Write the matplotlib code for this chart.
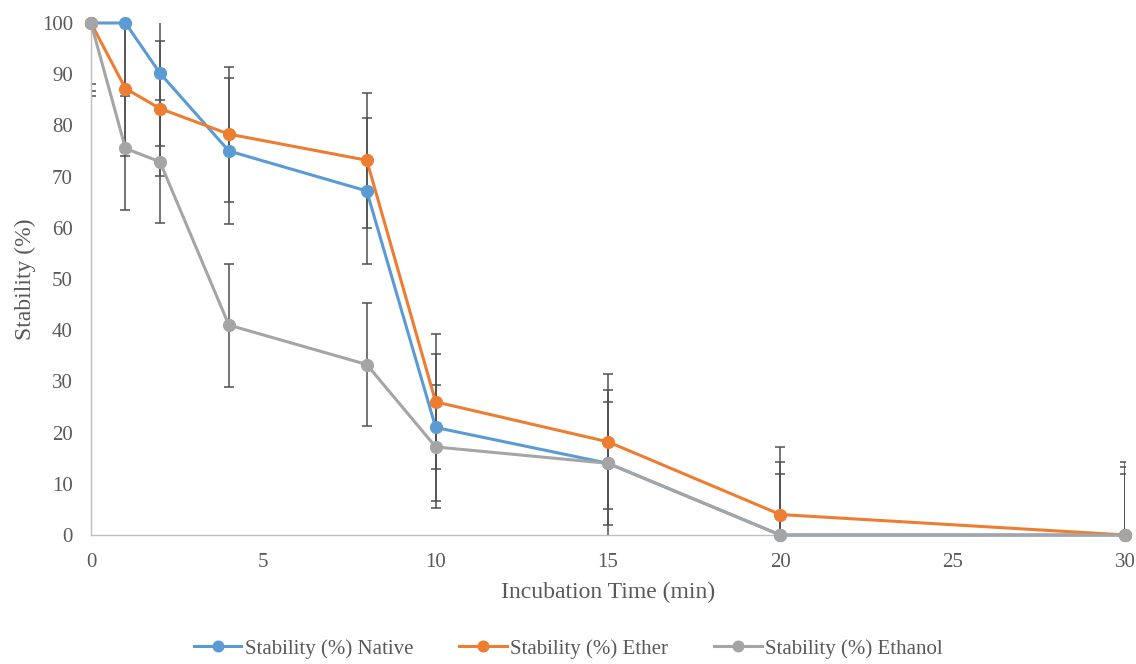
import matplotlib
matplotlib.use("Agg")
import matplotlib.pyplot as plt

time_min = [0, 1, 2, 4, 8, 10, 15, 20, 30]
native = [100, 100, 90.2, 75.0, 67.2, 21.0, 14.0, 0, 0]
ether = [100, 87.2, 83.3, 78.3, 73.2, 26.0, 18.2, 4.0, 0]
ethanol = [100, 75.5, 72.9, 41.0, 33.3, 17.2, 14.0, 0, 0]
err_native = 14.3
err_ether = 13.2
err_ethanol = 12.0
names = ["Stability (%) Native", "Stability (%) Ether", "Stability (%) Ethanol"]
colors = ["#5B9BD5", "#ED7D31", "#A5A5A5"]

plt.rcParams['font.family'] = ['Liberation Serif', 'DejaVu Serif']

fig = plt.figure(figsize=(11.36, 6.64), dpi=100)
ax = fig.add_axes([91/1136, 1-535/664, (1125-91)/1136, (535-23)/664])

series = [(native, err_native), (ether, err_ether), (ethanol, err_ethanol)]
for (vals, err), name, c in zip(series, names, colors):
    ax.errorbar(time_min, vals, yerr=err, fmt='none', ecolor='#505050',
                elinewidth=1.1, capsize=3.8, capthick=1.1, zorder=1)
for (vals, err), name, c in zip(series, names, colors):
    ax.plot(time_min, vals, color=c, lw=2.2, marker='o', markersize=8.5,
            label=name, zorder=3, clip_on=False)

ax.set_xlim(0, 30)
ax.set_ylim(0, 100)
ax.set_xticks(range(0, 31, 5))
ax.set_yticks(range(0, 101, 10))
ax.tick_params(length=0, labelsize=15, labelcolor='#595959')
ax.tick_params(axis='y', pad=13)
ax.tick_params(axis='x', pad=13)
for s in ['top', 'right']:
    ax.spines[s].set_visible(False)
for s in ['left', 'bottom']:
    ax.spines[s].set_color('#BFBFBF')
    ax.spines[s].set_linewidth(1.0)
ax.set_xlabel("Incubation Time (min)", fontsize=17, color='#595959', labelpad=7)
ax.set_ylabel("Stability (%)", fontsize=17, color='#595959', labelpad=4)

fig.legend(loc='lower center', bbox_to_anchor=(0.5, -0.02), ncol=3, frameon=False,
           fontsize=15, labelcolor='#595959', handlelength=2.3, columnspacing=2.2,
           handletextpad=0.15, markerscale=0.9)

fig.savefig("out.png", dpi=100)
